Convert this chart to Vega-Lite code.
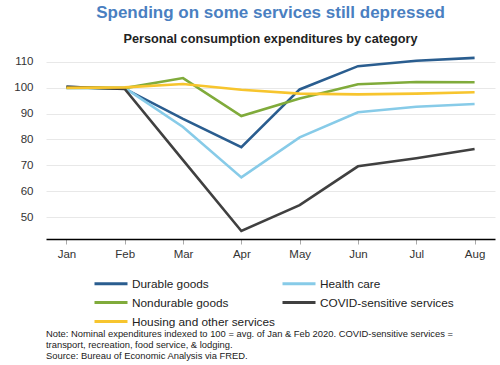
{
  "$schema": "https://vega.github.io/schema/vega-lite/v6.json",
  "padding": {"left": 13, "top": 4, "right": 3, "bottom": 2},
  "background": "white",
  "config": {
    "font": "Liberation Sans",
    "view": {"stroke": null},
    "concat": {"spacing": 0}
  },
  "title": {
    "text": ["Note: Nominal expenditures indexed to 100 = avg. of Jan & Feb 2020. COVID-sensitive services =", "transport, recreation, food service, & lodging.", "Source: Bureau of Economic Analysis via FRED."],
    "orient": "bottom",
    "anchor": "start",
    "frame": "group",
    "fontSize": 9.4,
    "fontWeight": "normal",
    "lineHeight": 11,
    "color": "#222222",
    "offset": 1,
    "dx": 0
  },
  "vconcat": [
    {
      "width": 449,
      "height": 185,
      "title": {
        "text": "Spending on some services still depressed",
        "subtitle": "Personal consumption expenditures by category",
        "anchor": "middle",
        "frame": "group",
        "fontSize": 17,
        "fontWeight": "bold",
        "color": "#4a7fc1",
        "subtitleFontSize": 12.7,
        "subtitleFontWeight": "bold",
        "subtitleColor": "#222222",
        "subtitlePadding": 11,
        "offset": 5.5
      },
      "data": {
        "values": [
          {"month": "Jan", "series": "Durable goods", "value": 100.3},
          {"month": "Feb", "series": "Durable goods", "value": 99.6},
          {"month": "Mar", "series": "Durable goods", "value": 87.9},
          {"month": "Apr", "series": "Durable goods", "value": 77.0},
          {"month": "May", "series": "Durable goods", "value": 99.3},
          {"month": "Jun", "series": "Durable goods", "value": 108.3},
          {"month": "Jul", "series": "Durable goods", "value": 110.4},
          {"month": "Aug", "series": "Durable goods", "value": 111.5},
          {"month": "Jan", "series": "Health care", "value": 99.8},
          {"month": "Feb", "series": "Health care", "value": 99.9},
          {"month": "Mar", "series": "Health care", "value": 84.8},
          {"month": "Apr", "series": "Health care", "value": 65.3},
          {"month": "May", "series": "Health care", "value": 80.8},
          {"month": "Jun", "series": "Health care", "value": 90.5},
          {"month": "Jul", "series": "Health care", "value": 92.6},
          {"month": "Aug", "series": "Health care", "value": 93.7},
          {"month": "Jan", "series": "Nondurable goods", "value": 100.1},
          {"month": "Feb", "series": "Nondurable goods", "value": 99.8},
          {"month": "Mar", "series": "Nondurable goods", "value": 103.7},
          {"month": "Apr", "series": "Nondurable goods", "value": 89.0},
          {"month": "May", "series": "Nondurable goods", "value": 95.8},
          {"month": "Jun", "series": "Nondurable goods", "value": 101.3},
          {"month": "Jul", "series": "Nondurable goods", "value": 102.2},
          {"month": "Aug", "series": "Nondurable goods", "value": 102.1},
          {"month": "Jan", "series": "COVID-sensitive services", "value": 100.3},
          {"month": "Feb", "series": "COVID-sensitive services", "value": 99.5},
          {"month": "Mar", "series": "COVID-sensitive services", "value": 72.0},
          {"month": "Apr", "series": "COVID-sensitive services", "value": 44.6},
          {"month": "May", "series": "COVID-sensitive services", "value": 54.6},
          {"month": "Jun", "series": "COVID-sensitive services", "value": 69.6},
          {"month": "Jul", "series": "COVID-sensitive services", "value": 72.7},
          {"month": "Aug", "series": "COVID-sensitive services", "value": 76.3},
          {"month": "Jan", "series": "Housing and other services", "value": 99.9},
          {"month": "Feb", "series": "Housing and other services", "value": 100.1},
          {"month": "Mar", "series": "Housing and other services", "value": 101.4},
          {"month": "Apr", "series": "Housing and other services", "value": 99.2},
          {"month": "May", "series": "Housing and other services", "value": 97.7},
          {"month": "Jun", "series": "Housing and other services", "value": 97.4},
          {"month": "Jul", "series": "Housing and other services", "value": 97.7},
          {"month": "Aug", "series": "Housing and other services", "value": 98.2}
        ]
      },
      "mark": {"type": "line", "strokeWidth": 2.6},
      "encoding": {
        "x": {
          "field": "month",
          "type": "ordinal",
          "sort": ["Jan", "Feb", "Mar", "Apr", "May", "Jun", "Jul", "Aug"],
          "scale": {"type": "point", "padding": 0.35},
          "axis": {
            "title": null,
            "labelAngle": 0,
            "labelFontSize": 11.5,
            "labelColor": "#333333",
            "labelPadding": 4,
            "domainColor": "#000000",
            "domainWidth": 1.6,
            "tickColor": "#aaaaaa",
            "tickSize": 5,
            "grid": false
          }
        },
        "y": {
          "field": "value",
          "type": "quantitative",
          "scale": {"domain": [41.5, 113], "nice": false, "zero": false},
          "axis": {
            "title": null,
            "values": [50, 60, 70, 80, 90, 100, 110],
            "labelFontSize": 11.5,
            "labelColor": "#333333",
            "labelPadding": 13,
            "ticks": false,
            "domain": false,
            "gridColor": "#e8e8e8",
            "gridWidth": 1
          }
        },
        "color": {
          "field": "series",
          "type": "nominal",
          "scale": {
            "domain": ["Durable goods", "Health care", "Nondurable goods", "COVID-sensitive services", "Housing and other services"],
            "range": ["#2a5d8f", "#87cbe8", "#80ab3b", "#404040", "#f7c52e"]
          },
          "legend": {
            "title": null,
            "orient": "none",
            "direction": "horizontal",
            "legendX": 47,
            "legendY": 222,
            "columns": 2,
            "symbolType": "M-1,0H4.5",
            "symbolSize": 144,
            "symbolStrokeWidth": 3,
            "labelFontSize": 11.8,
            "labelColor": "#222222",
            "labelOffset": 24,
            "columnPadding": 1,
            "rowPadding": 4
          }
        }
      }
    }
  ]
}
